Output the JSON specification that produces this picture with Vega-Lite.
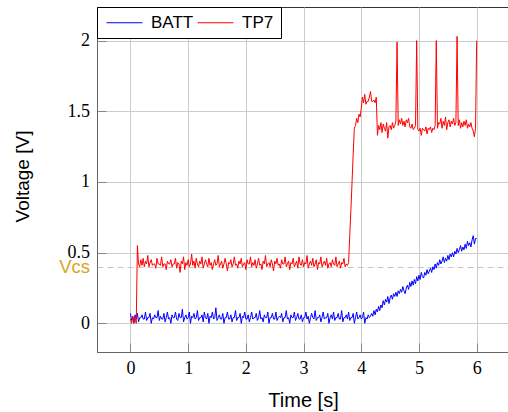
{
  "$schema": "https://vega.github.io/schema/vega-lite/v6.json",
  "width": 412,
  "height": 345,
  "autosize": "none",
  "padding": {"left": 97, "top": 7, "right": 0, "bottom": 60},
  "background": "white",
  "view": {"stroke": "#333", "strokeWidth": 1},
  "data": {"values": [
{"t":0.00,"BATT":0.07,"TP7":0.03},{"t":0.02,"BATT":0.02,"TP7":0.00},{"t":0.04,"BATT":0.05,"TP7":0.05},{"t":0.06,"BATT":0.00,"TP7":0.01},{"t":0.08,"BATT":0.06,"TP7":0.04},{"t":0.10,"BATT":0.03,"TP7":0.00},{"t":0.12,"BATT":0.07,"TP7":0.55},{"t":0.14,"BATT":0.01,"TP7":0.42},{"t":0.16,"BATT":0.04,"TP7":0.40},{"t":0.18,"BATT":0.04,"TP7":0.45},
{"t":0.20,"BATT":0.06,"TP7":0.41},{"t":0.22,"BATT":0.03,"TP7":0.46},{"t":0.24,"BATT":0.03,"TP7":0.40},{"t":0.26,"BATT":0.08,"TP7":0.44},{"t":0.28,"BATT":0.02,"TP7":0.42},{"t":0.30,"BATT":0.04,"TP7":0.48},{"t":0.32,"BATT":0.04,"TP7":0.40},{"t":0.34,"BATT":0.07,"TP7":0.43},{"t":0.36,"BATT":0.00,"TP7":0.45},{"t":0.38,"BATT":0.04,"TP7":0.41},
{"t":0.40,"BATT":0.03,"TP7":0.42},{"t":0.42,"BATT":0.06,"TP7":0.42},{"t":0.44,"BATT":0.04,"TP7":0.39},{"t":0.46,"BATT":0.04,"TP7":0.46},{"t":0.48,"BATT":0.09,"TP7":0.42},{"t":0.50,"BATT":0.02,"TP7":0.42},{"t":0.52,"BATT":0.05,"TP7":0.41},{"t":0.54,"BATT":0.03,"TP7":0.47},{"t":0.56,"BATT":0.03,"TP7":0.40},{"t":0.58,"BATT":0.07,"TP7":0.42},
{"t":0.60,"BATT":0.01,"TP7":0.42},{"t":0.62,"BATT":0.04,"TP7":0.38},{"t":0.64,"BATT":0.08,"TP7":0.44},{"t":0.66,"BATT":0.03,"TP7":0.42},{"t":0.68,"BATT":0.04,"TP7":0.42},{"t":0.70,"BATT":0.00,"TP7":0.45},{"t":0.72,"BATT":0.06,"TP7":0.40},{"t":0.74,"BATT":0.04,"TP7":0.42},{"t":0.76,"BATT":0.04,"TP7":0.42},{"t":0.78,"BATT":0.08,"TP7":0.46},
{"t":0.80,"BATT":0.03,"TP7":0.39},{"t":0.82,"BATT":0.02,"TP7":0.43},{"t":0.84,"BATT":0.07,"TP7":0.42},{"t":0.86,"BATT":0.04,"TP7":0.36},{"t":0.88,"BATT":0.04,"TP7":0.44},{"t":0.90,"BATT":0.10,"TP7":0.42},{"t":0.92,"BATT":0.01,"TP7":0.47},{"t":0.94,"BATT":0.04,"TP7":0.38},{"t":0.96,"BATT":0.06,"TP7":0.43},{"t":0.98,"BATT":0.03,"TP7":0.41},
{"t":1.00,"BATT":0.04,"TP7":0.45},{"t":1.02,"BATT":0.08,"TP7":0.40},{"t":1.04,"BATT":0.00,"TP7":0.42},{"t":1.06,"BATT":0.05,"TP7":0.49},{"t":1.08,"BATT":0.04,"TP7":0.41},{"t":1.10,"BATT":0.07,"TP7":0.44},{"t":1.12,"BATT":0.03,"TP7":0.39},{"t":1.14,"BATT":0.04,"TP7":0.46},{"t":1.16,"BATT":0.09,"TP7":0.42},{"t":1.18,"BATT":0.02,"TP7":0.40},
{"t":1.20,"BATT":0.04,"TP7":0.44},{"t":1.22,"BATT":0.04,"TP7":0.42},{"t":1.24,"BATT":0.06,"TP7":0.47},{"t":1.26,"BATT":0.01,"TP7":0.39},{"t":1.28,"BATT":0.08,"TP7":0.42},{"t":1.30,"BATT":0.04,"TP7":0.45},{"t":1.32,"BATT":0.03,"TP7":0.42},{"t":1.34,"BATT":0.07,"TP7":0.40},{"t":1.36,"BATT":0.00,"TP7":0.46},{"t":1.38,"BATT":0.05,"TP7":0.41},
{"t":1.40,"BATT":0.04,"TP7":0.43},{"t":1.42,"BATT":0.08,"TP7":0.38},{"t":1.44,"BATT":0.03,"TP7":0.42},{"t":1.46,"BATT":0.04,"TP7":0.45},{"t":1.48,"BATT":0.11,"TP7":0.41},{"t":1.50,"BATT":0.02,"TP7":0.42},{"t":1.52,"BATT":0.04,"TP7":0.48},{"t":1.54,"BATT":0.06,"TP7":0.40},{"t":1.56,"BATT":0.03,"TP7":0.42},{"t":1.58,"BATT":0.03,"TP7":0.44},
{"t":1.60,"BATT":0.07,"TP7":0.39},{"t":1.62,"BATT":0.00,"TP7":0.42},{"t":1.64,"BATT":0.04,"TP7":0.46},{"t":1.66,"BATT":0.04,"TP7":0.42},{"t":1.68,"BATT":0.08,"TP7":0.37},{"t":1.70,"BATT":0.03,"TP7":0.43},{"t":1.72,"BATT":0.03,"TP7":0.42},{"t":1.74,"BATT":0.06,"TP7":0.45},{"t":1.76,"BATT":0.01,"TP7":0.40},{"t":1.78,"BATT":0.04,"TP7":0.42},
{"t":1.80,"BATT":0.04,"TP7":0.47},{"t":1.82,"BATT":0.09,"TP7":0.41},{"t":1.84,"BATT":0.02,"TP7":0.42},{"t":1.86,"BATT":0.04,"TP7":0.39},{"t":1.88,"BATT":0.04,"TP7":0.44},{"t":1.90,"BATT":0.07,"TP7":0.42},{"t":1.92,"BATT":0.00,"TP7":0.46},{"t":1.94,"BATT":0.05,"TP7":0.40},{"t":1.96,"BATT":0.04,"TP7":0.42},{"t":1.98,"BATT":0.08,"TP7":0.43},
{"t":2.00,"BATT":0.03,"TP7":0.38},{"t":2.02,"BATT":0.03,"TP7":0.45},{"t":2.04,"BATT":0.06,"TP7":0.42},{"t":2.06,"BATT":0.01,"TP7":0.42},{"t":2.08,"BATT":0.04,"TP7":0.47},{"t":2.10,"BATT":0.08,"TP7":0.40},{"t":2.12,"BATT":0.03,"TP7":0.43},{"t":2.14,"BATT":0.04,"TP7":0.41},{"t":2.16,"BATT":0.04,"TP7":0.45},{"t":2.18,"BATT":0.07,"TP7":0.39},
{"t":2.20,"BATT":0.02,"TP7":0.42},{"t":2.22,"BATT":0.04,"TP7":0.46},{"t":2.24,"BATT":0.09,"TP7":0.41},{"t":2.26,"BATT":0.03,"TP7":0.42},{"t":2.28,"BATT":0.04,"TP7":0.38},{"t":2.30,"BATT":0.01,"TP7":0.44},{"t":2.32,"BATT":0.06,"TP7":0.42},{"t":2.34,"BATT":0.04,"TP7":0.48},{"t":2.36,"BATT":0.04,"TP7":0.40},{"t":2.38,"BATT":0.08,"TP7":0.42},
{"t":2.40,"BATT":0.00,"TP7":0.43},{"t":2.42,"BATT":0.04,"TP7":0.40},{"t":2.44,"BATT":0.04,"TP7":0.45},{"t":2.46,"BATT":0.07,"TP7":0.42},{"t":2.48,"BATT":0.03,"TP7":0.37},{"t":2.50,"BATT":0.03,"TP7":0.44},{"t":2.52,"BATT":0.08,"TP7":0.42},{"t":2.54,"BATT":0.02,"TP7":0.46},{"t":2.56,"BATT":0.04,"TP7":0.41},{"t":2.58,"BATT":0.05,"TP7":0.42},
{"t":2.60,"BATT":0.04,"TP7":0.39},{"t":2.62,"BATT":0.07,"TP7":0.45},{"t":2.64,"BATT":0.01,"TP7":0.42},{"t":2.66,"BATT":0.04,"TP7":0.42},{"t":2.68,"BATT":0.04,"TP7":0.47},{"t":2.70,"BATT":0.09,"TP7":0.40},{"t":2.72,"BATT":0.03,"TP7":0.42},{"t":2.74,"BATT":0.04,"TP7":0.44},{"t":2.76,"BATT":0.00,"TP7":0.38},{"t":2.78,"BATT":0.06,"TP7":0.43},
{"t":2.80,"BATT":0.04,"TP7":0.42},{"t":2.82,"BATT":0.04,"TP7":0.46},{"t":2.84,"BATT":0.08,"TP7":0.40},{"t":2.86,"BATT":0.02,"TP7":0.42},{"t":2.88,"BATT":0.04,"TP7":0.44},{"t":2.90,"BATT":0.07,"TP7":0.39},{"t":2.92,"BATT":0.03,"TP7":0.47},{"t":2.94,"BATT":0.03,"TP7":0.42},{"t":2.96,"BATT":0.06,"TP7":0.41},{"t":2.98,"BATT":0.01,"TP7":0.45},
{"t":3.00,"BATT":0.04,"TP7":0.40},{"t":3.02,"BATT":0.04,"TP7":0.43},{"t":3.04,"BATT":0.08,"TP7":0.42},{"t":3.06,"BATT":0.03,"TP7":0.48},{"t":3.08,"BATT":0.05,"TP7":0.39},{"t":3.10,"BATT":0.00,"TP7":0.42},{"t":3.12,"BATT":0.04,"TP7":0.44},{"t":3.14,"BATT":0.07,"TP7":0.41},{"t":3.16,"BATT":0.04,"TP7":0.46},{"t":3.18,"BATT":0.03,"TP7":0.40},
{"t":3.20,"BATT":0.09,"TP7":0.42},{"t":3.22,"BATT":0.02,"TP7":0.45},{"t":3.24,"BATT":0.04,"TP7":0.38},{"t":3.26,"BATT":0.04,"TP7":0.43},{"t":3.28,"BATT":0.06,"TP7":0.42},{"t":3.30,"BATT":0.01,"TP7":0.47},{"t":3.32,"BATT":0.04,"TP7":0.40},{"t":3.34,"BATT":0.08,"TP7":0.42},{"t":3.36,"BATT":0.03,"TP7":0.44},{"t":3.38,"BATT":0.04,"TP7":0.41},
{"t":3.40,"BATT":0.04,"TP7":0.46},{"t":3.42,"BATT":0.07,"TP7":0.39},{"t":3.44,"BATT":0.00,"TP7":0.42},{"t":3.46,"BATT":0.04,"TP7":0.43},{"t":3.48,"BATT":0.06,"TP7":0.40},{"t":3.50,"BATT":0.03,"TP7":0.45},{"t":3.52,"BATT":0.08,"TP7":0.42},{"t":3.54,"BATT":0.02,"TP7":0.41},{"t":3.56,"BATT":0.04,"TP7":0.47},{"t":3.58,"BATT":0.04,"TP7":0.40},
{"t":3.60,"BATT":0.07,"TP7":0.42},{"t":3.62,"BATT":0.03,"TP7":0.44},{"t":3.64,"BATT":0.03,"TP7":0.39},{"t":3.66,"BATT":0.09,"TP7":0.43},{"t":3.68,"BATT":0.01,"TP7":0.42},{"t":3.70,"BATT":0.04,"TP7":0.46},{"t":3.72,"BATT":0.04,"TP7":0.40},{"t":3.74,"BATT":0.06,"TP7":0.42},{"t":3.76,"BATT":0.03,"TP7":0.41},{"t":3.78,"BATT":0.08,"TP7":0.43},
{"t":3.80,"BATT":0.02,"TP7":0.62},{"t":3.82,"BATT":0.04,"TP7":0.80},{"t":3.84,"BATT":0.04,"TP7":1.00},{"t":3.86,"BATT":0.07,"TP7":1.20},{"t":3.88,"BATT":0.00,"TP7":1.38},{"t":3.90,"BATT":0.04,"TP7":1.40},{"t":3.92,"BATT":0.08,"TP7":1.45},{"t":3.94,"BATT":0.03,"TP7":1.42},{"t":3.96,"BATT":0.04,"TP7":1.48},{"t":3.98,"BATT":0.06,"TP7":1.46},
{"t":4.00,"BATT":0.03,"TP7":1.52},{"t":4.02,"BATT":0.04,"TP7":1.60},{"t":4.04,"BATT":0.08,"TP7":1.56},{"t":4.06,"BATT":0.00,"TP7":1.62},{"t":4.08,"BATT":0.04,"TP7":1.55},{"t":4.10,"BATT":0.03,"TP7":1.57},{"t":4.12,"BATT":0.06,"TP7":1.57},{"t":4.14,"BATT":0.04,"TP7":1.60},{"t":4.16,"BATT":0.05,"TP7":1.64},{"t":4.18,"BATT":0.07,"TP7":1.57},
{"t":4.20,"BATT":0.05,"TP7":1.57},{"t":4.22,"BATT":0.09,"TP7":1.58},{"t":4.24,"BATT":0.06,"TP7":1.56},{"t":4.26,"BATT":0.10,"TP7":1.60},{"t":4.28,"BATT":0.08,"TP7":1.33},{"t":4.30,"BATT":0.12,"TP7":1.40},{"t":4.32,"BATT":0.09,"TP7":1.37},{"t":4.34,"BATT":0.13,"TP7":1.42},{"t":4.36,"BATT":0.11,"TP7":1.35},{"t":4.38,"BATT":0.16,"TP7":1.41},
{"t":4.40,"BATT":0.13,"TP7":1.38},{"t":4.42,"BATT":0.17,"TP7":1.36},{"t":4.44,"BATT":0.15,"TP7":1.42},{"t":4.46,"BATT":0.19,"TP7":1.31},{"t":4.48,"BATT":0.14,"TP7":1.39},{"t":4.50,"BATT":0.18,"TP7":1.40},{"t":4.52,"BATT":0.20,"TP7":1.37},{"t":4.54,"BATT":0.17,"TP7":1.42},{"t":4.56,"BATT":0.21,"TP7":1.38},{"t":4.58,"BATT":0.19,"TP7":1.40},
{"t":4.60,"BATT":0.22,"TP7":1.43},{"t":4.62,"BATT":0.19,"TP7":1.99},{"t":4.64,"BATT":0.23,"TP7":1.40},{"t":4.66,"BATT":0.21,"TP7":1.44},{"t":4.68,"BATT":0.24,"TP7":1.41},{"t":4.70,"BATT":0.22,"TP7":1.45},{"t":4.72,"BATT":0.26,"TP7":1.40},{"t":4.74,"BATT":0.23,"TP7":1.43},{"t":4.76,"BATT":0.21,"TP7":1.39},{"t":4.78,"BATT":0.25,"TP7":1.44},
{"t":4.80,"BATT":0.27,"TP7":1.42},{"t":4.82,"BATT":0.24,"TP7":1.45},{"t":4.84,"BATT":0.29,"TP7":1.39},{"t":4.86,"BATT":0.26,"TP7":1.38},{"t":4.88,"BATT":0.30,"TP7":1.41},{"t":4.90,"BATT":0.27,"TP7":1.37},{"t":4.92,"BATT":0.31,"TP7":1.38},{"t":4.94,"BATT":0.28,"TP7":1.40},{"t":4.96,"BATT":0.33,"TP7":2.00},{"t":4.98,"BATT":0.30,"TP7":1.37},
{"t":5.00,"BATT":0.34,"TP7":1.36},{"t":5.02,"BATT":0.31,"TP7":1.38},{"t":5.04,"BATT":0.36,"TP7":1.33},{"t":5.06,"BATT":0.33,"TP7":1.38},{"t":5.08,"BATT":0.32,"TP7":1.37},{"t":5.10,"BATT":0.36,"TP7":1.36},{"t":5.12,"BATT":0.34,"TP7":1.39},{"t":5.14,"BATT":0.38,"TP7":1.34},{"t":5.16,"BATT":0.35,"TP7":1.38},{"t":5.18,"BATT":0.37,"TP7":1.37},
{"t":5.20,"BATT":0.39,"TP7":1.39},{"t":5.22,"BATT":0.36,"TP7":1.35},{"t":5.24,"BATT":0.40,"TP7":1.38},{"t":5.26,"BATT":0.38,"TP7":1.37},{"t":5.28,"BATT":0.42,"TP7":1.40},{"t":5.30,"BATT":0.39,"TP7":2.00},{"t":5.32,"BATT":0.43,"TP7":1.38},{"t":5.34,"BATT":0.41,"TP7":1.42},{"t":5.36,"BATT":0.45,"TP7":1.41},{"t":5.38,"BATT":0.42,"TP7":1.45},
{"t":5.40,"BATT":0.44,"TP7":1.38},{"t":5.42,"BATT":0.47,"TP7":1.43},{"t":5.44,"BATT":0.43,"TP7":1.40},{"t":5.46,"BATT":0.46,"TP7":1.46},{"t":5.48,"BATT":0.44,"TP7":1.37},{"t":5.50,"BATT":0.48,"TP7":1.42},{"t":5.52,"BATT":0.45,"TP7":1.44},{"t":5.54,"BATT":0.49,"TP7":1.39},{"t":5.56,"BATT":0.47,"TP7":1.43},{"t":5.58,"BATT":0.50,"TP7":1.41},
{"t":5.60,"BATT":0.47,"TP7":1.45},{"t":5.62,"BATT":0.51,"TP7":1.40},{"t":5.64,"BATT":0.49,"TP7":1.42},{"t":5.66,"BATT":0.53,"TP7":2.03},{"t":5.68,"BATT":0.50,"TP7":1.40},{"t":5.70,"BATT":0.52,"TP7":1.44},{"t":5.72,"BATT":0.55,"TP7":1.38},{"t":5.74,"BATT":0.51,"TP7":1.42},{"t":5.76,"BATT":0.54,"TP7":1.39},{"t":5.78,"BATT":0.52,"TP7":1.43},
{"t":5.80,"BATT":0.56,"TP7":1.40},{"t":5.82,"BATT":0.53,"TP7":1.44},{"t":5.84,"BATT":0.58,"TP7":1.38},{"t":5.86,"BATT":0.55,"TP7":1.41},{"t":5.88,"BATT":0.57,"TP7":1.39},{"t":5.90,"BATT":0.54,"TP7":1.42},{"t":5.92,"BATT":0.59,"TP7":1.38},{"t":5.94,"BATT":0.62,"TP7":1.36},{"t":5.96,"BATT":0.56,"TP7":1.32},{"t":5.98,"BATT":0.60,"TP7":1.38},
{"t":6.00,"BATT":0.60,"TP7":2.00}
  ]},
  "transform": [{"fold": ["BATT", "TP7"], "as": ["s", "v"]}],
  "mark": {"type": "line", "strokeWidth": 1, "interpolate": "linear"},
  "encoding": {
    "x": {
      "field": "t", "type": "quantitative",
      "scale": {"domain": [-0.58, 6.56], "nice": false, "zero": false},
      "axis": {
        "title": "Time [s]",
        "values": [0, 1, 2, 3, 4, 5, 6],
        "format": "~g",
        "labelOverlap": false,
        "grid": true, "gridColor": "#cccccc", "gridWidth": 1,
        "domainColor": "#666666", "domainWidth": 1,
        "tickColor": "#888888", "tickSize": -9, "tickWidth": 1,
        "labelFont": "Liberation Serif", "labelFontSize": 18, "labelColor": "black",
        "labelPadding": 16, "labelBaseline": "top",
        "titleFont": "Liberation Sans", "titleFontSize": 20, "titleFontWeight": "normal", "titleColor": "black",
        "titleBaseline": "alphabetic", "titleY": 54, "titleX": 206
      }
    },
    "y": {
      "field": "v", "type": "quantitative",
      "scale": {"domain": [-0.203, 2.238], "nice": false, "zero": false},
      "axis": {
        "title": "Voltage [V]",
        "values": [0, 0.5, 1, 1.5, 2, 0.4],
        "format": "~g",
        "labelOverlap": false,
        "labelExpr": "datum.value == 0.4 ? 'Vcs' : datum.label",
        "grid": true,
        "gridColor": {"condition": {"test": "datum.value == 0.4", "value": "#c4c4c4"}, "value": "#cccccc"},
        "gridDash": {"condition": {"test": "datum.value == 0.4", "value": [6, 4]}, "value": []},
        "gridWidth": 1,
        "domainColor": "#666666", "domainWidth": 1,
        "tickColor": {"condition": {"test": "datum.value == 0.4", "value": "transparent"}, "value": "#888888"},
        "tickSize": -9, "tickWidth": 1,
        "labelFont": {"condition": {"test": "datum.value == 0.4", "value": "Liberation Sans"}, "value": "Liberation Serif"},
        "labelFontSize": {"condition": {"test": "datum.value == 0.4", "value": 18.5}, "value": 18},
        "labelColor": {"condition": {"test": "datum.value == 0.4", "value": "#D9A521"}, "value": "black"},
        "labelPadding": 16.5,
        "titleFont": "Liberation Sans", "titleFontSize": 19, "titleFontWeight": "normal", "titleColor": "black",
        "titleBaseline": "alphabetic", "titleX": -69, "titleY": 169
      }
    },
    "color": {
      "field": "s", "type": "nominal",
      "scale": {"domain": ["BATT", "TP7"], "range": ["#0000ff", "#ff0000"]},
      "legend": {
        "title": null,
        "orient": "top-left", "offset": 0, "direction": "horizontal",
        "strokeColor": "black", "fillColor": "white", "padding": 7, "cornerRadius": 0,
        "symbolType": "M-1,0H5", "symbolSize": 144, "symbolStrokeWidth": 1,
        "labelFont": "Liberation Sans", "labelFontSize": 17, "labelColor": "black",
        "labelOffset": 30, "columnPadding": 1
      }
    }
  }
}
